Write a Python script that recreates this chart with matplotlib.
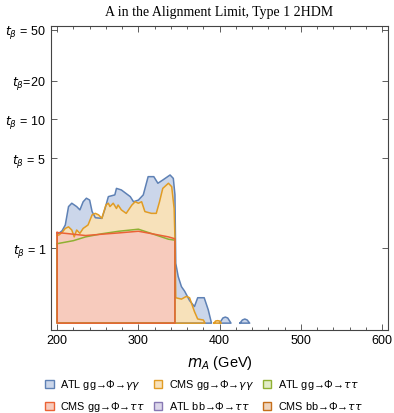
import numpy as np
import matplotlib
matplotlib.use("Agg")
import matplotlib.pyplot as plt
from matplotlib.patches import Patch

plt.rcParams['font.family'] = ['Liberation Sans', 'DejaVu Sans']
plt.rcParams['mathtext.fontset'] = 'dejavusans'

# lower edge of the excluded regions (tan beta)
base = 0.26

# ATL gg->Phi->gamma gamma, segments split by nan
atl_gg_aa_m = [200, 202, 206, 210, 214, 218, 224, 228, 232, 236, 240, 243, 247, 255, 259, 263,
               271, 273, 279, 290, 294, 300, 306, 312, 319, 324, 330, 339, 343, 345, 346, 349,
               353, 357, 363, 369, 373, 381, 386, 390,
               np.nan, 400, 404, 407, 410, 414,
               np.nan, 425, 428, 431, 434, 437]
atl_gg_aa_t = [1.30, 1.30, 1.36, 1.51, 2.10, 2.23, 2.10, 1.98, 2.29, 2.44, 2.36, 1.92, 1.72, 1.70, 2.03, 2.51,
               2.59, 2.91, 2.83, 2.51, 2.29, 2.36, 2.59, 3.59, 3.59, 3.19, 3.38, 3.70, 3.48, 2.6, 0.76, 0.60,
               0.50, 0.46, 0.39, 0.35, 0.41, 0.41, 0.33, 0.26,
               np.nan, 0.26, 0.285, 0.29, 0.285, 0.26,
               np.nan, 0.26, 0.275, 0.28, 0.275, 0.26]

# CMS gg->Phi->gamma gamma
cms_gg_aa_m = [200, 202, 206, 210, 214, 218, 221, 224, 228, 232, 238, 243, 247, 251, 255, 260,
               263, 265, 269, 273, 275, 279, 285, 292, 296, 300, 304, 308, 316, 322, 326, 330,
               337, 341, 344, 345, 346, 353, 359, 363, 369, 373, 380, 382,
               np.nan, 393, 395, 397.5, 400, 402]
cms_gg_aa_t = [1.26, 1.26, 1.32, 1.42, 1.46, 1.38, 1.22, 1.38, 1.30, 1.42, 1.51, 1.81, 1.86, 1.81, 1.70, 2.16,
               2.23, 2.10, 2.23, 2.03, 2.16, 1.98, 1.86, 2.16, 2.29, 2.23, 2.29, 1.92, 1.86, 1.86, 2.29, 2.91,
               3.19, 3.00, 2.03, 1.2, 0.41, 0.40, 0.42, 0.41, 0.32, 0.28, 0.275, 0.26,
               np.nan, 0.26, 0.27, 0.272, 0.27, 0.26]

# ATL gg->Phi->tau tau
atl_gg_tt_m = [200, 220, 235, 255, 276, 300, 317, 337, 345]
atl_gg_tt_t = [1.08, 1.14, 1.22, 1.29, 1.35, 1.40, 1.29, 1.17, 1.15]

# CMS gg->Phi->tau tau
cms_gg_tt_m = [200, 215, 235, 255, 276, 300, 317, 337, 345]
cms_gg_tt_t = [1.32, 1.29, 1.25, 1.28, 1.31, 1.35, 1.29, 1.22, 1.18]

# bb channels: nothing excluded in this range
atl_bb_tt_m, atl_bb_tt_t = [], []
cms_bb_tt_m, cms_bb_tt_t = [], []

labels = ["ATL gg→Φ→$\\gamma\\gamma$", "CMS gg→Φ→$\\gamma\\gamma$", "ATL gg→Φ→$\\tau\\tau$",
          "CMS gg→Φ→$\\tau\\tau$", "ATL bb→Φ→$\\tau\\tau$", "CMS bb→Φ→$\\tau\\tau$"]
colors = ["#5E81B5", "#E19C24", "#8FB032", "#EB6235", "#8778B3", "#C56E1A"]
fills = ["#cbd6ea", "#f7e1ba", "#e2ecc8", "#f7cbbd", "#dcd7ea", "#efd5bd"]

yticks = [1, 5, 10, 20, 50]
yticklabels = ["$t_\\beta$ = 1", "$t_\\beta$ = 5", "$t_\\beta$ = 10", "$t_\\beta$=20", "$t_\\beta$ = 50"]

fig = plt.figure(figsize=(3.94, 4.13), dpi=100)
ax = fig.add_axes([0.129, 0.201, 0.856, 0.736])

series = [(atl_gg_aa_m, atl_gg_aa_t), (cms_gg_aa_m, cms_gg_aa_t), (atl_gg_tt_m, atl_gg_tt_t),
          (cms_gg_tt_m, cms_gg_tt_t), (atl_bb_tt_m, atl_bb_tt_t), (cms_bb_tt_m, cms_bb_tt_t)]

outlines = []
for (m, t), c, fc in zip(series, colors, fills):
    m = np.array(m, dtype=float)
    t = np.array(t, dtype=float)
    if len(m) == 0:
        continue
    cuts = np.where(np.isnan(m))[0]
    for seg in np.split(np.arange(len(m)), cuts):
        seg = seg[~np.isnan(m[seg])]
        xs = list(m[seg]) + [m[seg][-1], m[seg][0]]
        ys = list(t[seg]) + [base, base]
        ax.fill(xs, ys, facecolor=fc, edgecolor="none", zorder=1)
        outlines.append((xs + [xs[0]], ys + [ys[0]], c))

# boundaries on top of all fills
for xs, ys, c in outlines:
    ax.plot(xs, ys, color=c, lw=1.1, zorder=2)

ax.set_yscale("log")
ax.set_xlim(192.2, 607.4)
ax.set_ylim(0.23, 53.4)
ax.set_yticks(yticks)
ax.set_yticklabels(yticklabels)
ax.yaxis.set_minor_locator(matplotlib.ticker.NullLocator())
ax.set_xticks([200, 300, 400, 500, 600])
ax.xaxis.set_minor_locator(matplotlib.ticker.MultipleLocator(20))
ax.tick_params(which="both", direction="in", top=True, right=True, colors="#444444",
               labelcolor="black", labelsize=9, width=0.6)
ax.tick_params(which="major", length=4)
ax.tick_params(which="minor", length=2.5)
for s in ax.spines.values():
    s.set_color("#444444")
    s.set_linewidth(0.8)

ax.set_xlabel("$m_A$ (GeV)", fontsize=10.5, labelpad=5)
ax.set_title("A in the Alignment Limit, Type 1 2HDM", family="Liberation Serif", fontsize=10, pad=7)

handles = [Patch(facecolor=fc, edgecolor=c, lw=1.0) for c, fc in zip(colors, fills)]
order = [0, 3, 1, 4, 2, 5]
fig.legend([handles[i] for i in order], [labels[i] for i in order], ncol=3,
           loc="upper left", bbox_to_anchor=(0.095, 0.104), frameon=False, fontsize=7.8,
           handlelength=0.8, handleheight=0.8, handletextpad=0.6, columnspacing=0.8, labelspacing=0.75,
           borderpad=0.2)

fig.savefig("out.png", dpi=100)
